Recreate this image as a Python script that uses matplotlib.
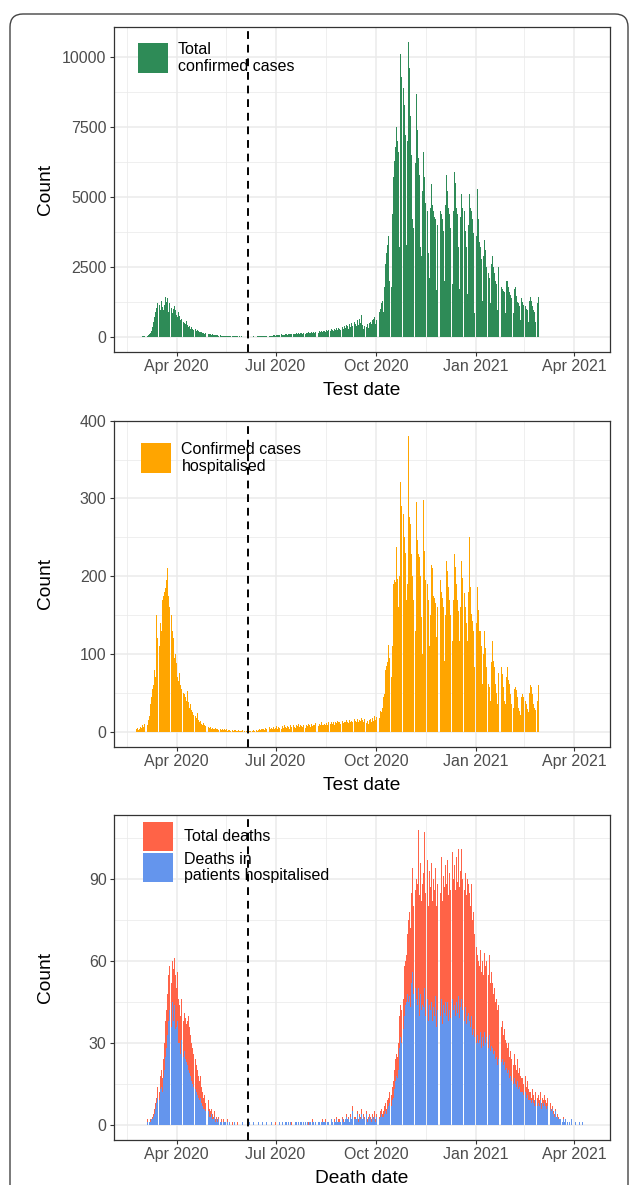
import numpy as np
import pandas as pd
import matplotlib
matplotlib.use('Agg')
import matplotlib.pyplot as plt
import matplotlib.dates as mdates
from matplotlib.patches import Rectangle, FancyBboxPatch

plt.rcParams['font.family'] = ['Liberation Sans', 'DejaVu Sans']

# daily series, weeks starting on Saturdays
start = '2020-02-22'
cutoff = '2020-06-06'

cases = [
    0, 0, 2, 4, 6, 8, 12,
    15, 20, 25, 30, 40, 50, 70,
    100, 140, 220, 350, 550, 720, 880,
    1050, 1200, 1150, 980, 1300, 1080, 950,
    1150, 1430, 1250, 1380, 900, 1200, 1050,
    850, 1000, 1120, 950, 800, 700, 900,
    750, 600, 650, 550, 500, 450, 580,
    420, 350, 400, 300, 340, 280, 250,
    300, 220, 250, 200, 180, 160, 190,
    150, 140, 120, 130, 110, 100, 115,
    90, 80, 95, 70, 75, 60, 65,
    55, 50, 60, 45, 40, 45, 35,
    40, 30, 35, 30, 25, 30, 25,
    20, 25, 20, 18, 22, 15, 20,
    15, 18, 12, 15, 14, 10, 12,
    10, 12, 15, 10, 14, 18, 12,
    15, 20, 18, 25, 20, 22, 30,
    25, 30, 35, 28, 40, 35, 45,
    50, 40, 60, 55, 45, 70, 60,
    80, 65, 90, 70, 85, 75, 95,
    100, 85, 110, 90, 105, 95, 120,
    115, 100, 130, 110, 125, 105, 140,
    130, 115, 145, 120, 150, 125, 160,
    150, 135, 170, 140, 175, 150, 190,
    180, 150, 200, 165, 210, 175, 230,
    220, 180, 250, 200, 260, 210, 280,
    260, 210, 300, 240, 310, 250, 330,
    300, 250, 350, 280, 380, 320, 420,
    380, 300, 450, 360, 500, 400, 550,
    480, 380, 600, 430, 650, 500, 800,
    420, 300, 400, 350, 450, 320, 500,
    550, 450, 600, 650, 700, 450, 600,
    700, 900, 1000, 1200, 1300, 900, 1800,
    2600, 3000, 3300, 3600, 2000, 1800, 4400,
    5700, 6300, 6800, 7500, 7000, 6600, 3200,
    10100, 9300, 8900, 8300, 7200, 3300, 7000,
    10550, 9600, 7900, 6500, 4200, 3900, 6200,
    8700, 7400, 6400, 5800, 3200, 2900, 5200,
    6600, 5700, 4800, 4500, 3000, 2100, 4600,
    5450, 4700, 4500, 4300, 4200, 1670, 4000,
    5300, 4500, 4400, 4200, 3800, 2000, 4700,
    5800, 5200, 4600, 4400, 3900, 1900, 4500,
    5900, 5500, 4600, 4400, 3200, 1700, 4300,
    5100, 4600, 4500, 3800, 3200, 1550, 4000,
    5100, 4600, 4500, 4200, 3700, 850, 3600,
    5300, 4200, 3400, 3200, 2800, 1300, 2900,
    3450, 3100, 2500, 2300, 2100, 1200, 2600,
    2900, 2500, 2300, 2000, 1900, 950, 2500,
    1850, 1800, 1700, 1650, 1600, 850, 2000,
    2000, 1800, 1600, 1500, 1400, 850, 1700,
    1800, 1450, 1250, 1200, 1100, 600, 1400,
    1250, 1150, 1100, 1000, 950, 530, 1300,
    1430, 1300, 1100, 950, 900, 540, 1200,
    1430,
]

hosp = [
    0, 0, 3, 5, 2, 4, 6,
    5, 8, 6, 10, 12, 9, 15,
    20, 35, 45, 55, 60, 80, 70,
    150, 120, 110, 140, 130, 170, 175,
    180, 185, 195, 210, 175, 160, 150,
    130, 120, 95, 100, 88, 70, 65,
    75, 60, 55, 50, 48, 45, 40,
    52, 38, 30, 35, 28, 25, 22,
    20, 18, 24, 15, 12, 14, 10,
    9, 11, 8, 7, 10, 6, 5,
    6, 4, 5, 3, 4, 5, 3,
    3, 2, 4, 2, 3, 2, 3,
    2, 3, 1, 2, 2, 1, 2,
    1, 2, 2, 1, 1, 2, 1,
    1, 1, 2, 1, 0, 1, 1,
    0, 1, 1, 0, 1, 2, 1,
    2, 1, 2, 3, 2, 4, 3,
    3, 2, 5, 4, 3, 6, 4,
    5, 4, 6, 3, 5, 7, 4,
    6, 5, 4, 7, 5, 8, 6,
    5, 7, 6, 4, 8, 6, 9,
    6, 5, 8, 7, 10, 6, 8,
    7, 6, 9, 5, 8, 7, 10,
    8, 6, 10, 7, 9, 8, 11,
    9, 7, 10, 8, 12, 9, 8,
    10, 8, 11, 9, 12, 10, 13,
    10, 12, 9, 13, 11, 14, 12,
    12, 10, 14, 11, 13, 12, 15,
    13, 11, 15, 12, 14, 13, 16,
    14, 12, 16, 13, 15, 14, 18,
    15, 12, 16, 11, 14, 10, 15,
    16, 13, 18, 14, 20, 15, 19,
    20, 18, 27, 25, 30, 45, 48,
    80, 85, 90, 112, 95, 70, 110,
    190, 195, 192, 237, 196, 160, 200,
    321, 290, 280, 250, 230, 170, 190,
    381, 276, 267, 229, 200, 169, 130,
    295, 246, 229, 225, 200, 148, 100,
    298, 233, 195, 190, 170, 110, 150,
    214, 210, 174, 172, 165, 122, 160,
    216, 195, 180, 172, 160, 91, 150,
    220, 207, 186, 169, 150, 117, 170,
    229, 212, 190, 169, 155, 117, 160,
    220, 198, 178, 160, 140, 117, 180,
    250, 186, 152, 143, 130, 83, 140,
    186, 156, 130, 130, 110, 61, 100,
    130, 108, 83, 61, 57, 40, 90,
    117, 91, 83, 61, 50, 36, 75,
    91, 83, 74, 57, 40, 35, 70,
    83, 66, 61, 48, 36, 30, 55,
    57, 53, 44, 31, 27, 22, 45,
    48, 44, 40, 35, 29, 25, 50,
    60, 57, 48, 35, 30, 28, 40,
    60,
]

deaths = [
    0, 0, 0, 0, 0, 0, 0,
    0, 0, 0, 0, 0, 2, 0,
    1, 2, 2, 3, 4, 6, 8,
    10, 14, 12, 18, 20, 17, 24,
    30, 38, 42, 48, 55, 58, 52,
    60, 57, 61, 55, 50, 56, 46,
    44, 40, 46, 38, 41, 39, 37,
    38, 40, 36, 33, 30, 28, 26,
    24, 22, 20, 18, 16, 18, 14,
    12, 10, 11, 8, 7, 9, 6,
    5, 6, 4, 3, 5, 2, 3,
    2, 3, 1, 2, 0, 2, 1,
    1, 0, 2, 0, 1, 0, 1,
    0, 1, 0, 0, 1, 0, 0,
    0, 0, 1, 0, 0, 0, 0,
    0, 1, 0, 0, 0, 1, 0,
    0, 0, 1, 0, 0, 0, 1,
    0, 0, 0, 1, 0, 0, 0,
    1, 0, 0, 0, 1, 0, 0,
    0, 1, 0, 1, 0, 0, 1,
    1, 0, 1, 0, 1, 1, 0,
    0, 1, 1, 0, 1, 0, 1,
    1, 0, 1, 1, 0, 1, 1,
    1, 1, 0, 2, 1, 0, 1,
    0, 1, 1, 0, 1, 2, 1,
    1, 2, 0, 1, 1, 0, 2,
    1, 0, 2, 1, 3, 1, 2,
    2, 1, 3, 2, 1, 2, 4,
    2, 3, 1, 4, 2, 7, 3,
    3, 2, 5, 2, 4, 3, 6,
    2, 4, 3, 5, 2, 3, 4,
    3, 2, 4, 3, 5, 2, 4,
    4, 3, 5, 6, 4, 5, 7,
    8, 6, 9, 10, 12, 11, 14,
    16, 20, 24, 26, 25, 30, 40,
    44, 42, 46, 58, 60, 62, 70,
    75, 78, 72, 85, 94, 80, 86,
    90, 88, 108, 84, 96, 82, 88,
    92, 107, 85, 97, 80, 93, 87,
    96, 82, 90, 86, 94, 80, 88,
    93, 85, 98, 82, 91, 87, 95,
    88, 97, 84, 92, 86, 100, 90,
    95, 86, 98, 89, 101, 87, 93,
    101, 90, 86, 92, 84, 90, 88,
    85, 80, 88, 75, 78, 70, 65,
    62, 60, 58, 64, 56, 60, 55,
    63, 58, 60, 55, 62, 52, 56,
    52, 48, 50, 45, 46, 42, 44,
    40, 36, 38, 33, 35, 31, 30,
    28, 30, 25, 27, 24, 22, 26,
    22, 20, 24, 19, 21, 18, 17,
    17, 15, 18, 14, 16, 13, 12,
    12, 10, 13, 11, 9, 12, 10,
    11, 9, 12, 8, 10, 9, 11,
    9, 8, 10, 7, 8, 6, 7,
    5, 4, 6, 3, 4, 3, 2,
    2, 1, 3, 1, 2, 0, 1,
    0, 1, 0, 2, 0, 0, 1,
    0, 0, 0, 1, 0, 0, 1,
]

deaths_hosp = [
    0, 0, 0, 0, 0, 0, 0,
    0, 0, 0, 0, 0, 1, 0,
    1, 1, 2, 2, 3, 4, 6,
    8, 10, 9, 13, 14, 12, 17,
    20, 25, 28, 33, 38, 42, 36,
    45, 38, 44, 35, 36, 38, 30,
    30, 26, 31, 25, 27, 24, 23,
    22, 20, 19, 18, 16, 15, 14,
    13, 12, 11, 10, 9, 10, 8,
    7, 6, 6, 5, 4, 5, 3,
    3, 4, 2, 2, 3, 1, 2,
    1, 2, 1, 1, 0, 1, 1,
    1, 0, 1, 0, 1, 0, 0,
    0, 1, 0, 0, 0, 0, 0,
    0, 0, 1, 0, 0, 0, 0,
    0, 1, 0, 0, 0, 1, 0,
    0, 0, 1, 0, 0, 0, 1,
    0, 0, 0, 1, 0, 0, 0,
    1, 0, 0, 0, 0, 0, 0,
    0, 1, 0, 1, 0, 0, 1,
    1, 0, 1, 0, 1, 0, 0,
    0, 1, 1, 0, 1, 0, 1,
    1, 0, 1, 1, 0, 1, 0,
    1, 1, 0, 1, 1, 0, 1,
    0, 1, 1, 0, 1, 1, 1,
    1, 1, 0, 1, 1, 0, 2,
    1, 0, 1, 1, 2, 1, 1,
    1, 1, 2, 1, 1, 2, 3,
    2, 2, 1, 3, 2, 5, 2,
    2, 2, 4, 1, 3, 2, 4,
    2, 3, 2, 4, 1, 2, 3,
    2, 1, 3, 2, 3, 1, 3,
    3, 2, 3, 4, 3, 3, 4,
    5, 4, 6, 7, 8, 7, 9,
    10, 13, 16, 18, 17, 20, 28,
    32, 30, 35, 40, 44, 45, 48,
    45, 47, 43, 52, 56, 48, 50,
    46, 44, 50, 40, 48, 42, 44,
    43, 50, 40, 46, 38, 44, 42,
    45, 38, 43, 40, 47, 36, 42,
    42, 40, 46, 37, 44, 41, 45,
    40, 45, 38, 42, 39, 46, 42,
    44, 40, 45, 41, 47, 39, 43,
    46, 42, 38, 43, 37, 40, 41,
    38, 36, 40, 33, 35, 32, 30,
    33, 30, 31, 34, 28, 32, 29,
    34, 30, 32, 28, 33, 27, 29,
    28, 26, 27, 24, 25, 22, 24,
    25, 23, 24, 22, 23, 20, 21,
    19, 20, 17, 18, 16, 15, 17,
    15, 14, 16, 13, 14, 12, 12,
    12, 11, 12, 10, 11, 9, 9,
    9, 8, 9, 8, 7, 9, 7,
    8, 7, 9, 6, 8, 7, 8,
    7, 6, 7, 5, 6, 5, 6,
    4, 3, 5, 3, 3, 2, 2,
    2, 1, 2, 1, 2, 0, 1,
    0, 1, 0, 2, 0, 0, 1,
    0, 0, 0, 1, 0, 0, 1,
]

xlabels = ['Test date', 'Test date', 'Death date']
yticks = [[0, 2500, 5000, 7500, 10000], [0, 100, 200, 300, 400], [0, 30, 60, 90]]
xticks = ['2020-04-01', '2020-07-01', '2020-10-01', '2021-01-01', '2021-04-01']
xminor = ['2020-02-15 12:00', '2020-05-16 12:00', '2020-08-16', '2020-11-16', '2021-02-14 12:00']
xlim = ['2020-02-03 06:00', '2021-05-04']

green = '#2E8B57'
orange = '#FFA500'
red = '#FF6347'
blue = '#6495ED'

W, H = 630, 1185
fig = plt.figure(figsize=(W / 100, H / 100), dpi=100)


def box(l, t, r, b):
    return [l / W, 1 - b / H, (r - l) / W, (b - t) / H]


panels = [(113.6, 27, 610, 351.7), (113.6, 420.7, 610, 746.5), (113.6, 815, 610, 1139.7)]
axes = [fig.add_axes(box(*p)) for p in panels]

d_cases = pd.date_range(start, periods=len(cases), freq='D')
d_hosp = pd.date_range(start, periods=len(hosp), freq='D')
d_deaths = pd.date_range(start, periods=len(deaths), freq='D')

axes[0].bar(d_cases, cases, width=0.9, color=green, lw=0)
axes[1].bar(d_hosp, hosp, width=0.9, color=orange, lw=0)
axes[2].bar(d_deaths, deaths, width=0.9, color=red, lw=0)
axes[2].bar(d_deaths, deaths_hosp, width=0.9, color=blue, lw=0)

tops = [max(cases), max(hosp), max(deaths)]

for i, ax in enumerate(axes):
    ax.set_xticks([pd.Timestamp(t) for t in xticks])
    ax.set_xticks([pd.Timestamp(t) for t in xminor], minor=True)
    ax.xaxis.set_major_formatter(mdates.DateFormatter('%b %Y'))
    ys = yticks[i]
    step = ys[1] - ys[0]
    ax.set_yticks(ys)
    ax.set_yticks([y + step / 2 for y in ys], minor=True)
    ax.set_xlim(pd.Timestamp(xlim[0]), pd.Timestamp(xlim[1]))
    ax.set_ylim(-0.05 * tops[i], 1.05 * tops[i])
    ax.set_axisbelow(True)
    ax.grid(which='major', color='#EBEBEB', lw=1.1)
    ax.grid(which='minor', color='#EBEBEB', lw=0.55)
    ax.tick_params(which='major', length=2.9, width=0.8, color='#333333',
                   labelcolor='#4D4D4D', labelsize=11.5, pad=2.2)
    ax.tick_params(which='minor', length=0)
    for s in ax.spines.values():
        s.set_color('#333333')
        s.set_linewidth(0.9)
    ax.axvline(pd.Timestamp(cutoff), color='black', lw=1.4, ls=(0, (4, 3)))
    ax.set_ylabel('Count', fontsize=13.8)
    ax.yaxis.label.set_va('center')
    ax.yaxis.set_label_coords(-0.138, 0.5)
    ax.set_xlabel(xlabels[i], fontsize=13.8)
    ax.xaxis.set_label_coords(0.5, -0.093)

# legends drawn in pixel positions
legend_items = [
    (138, 43, green, 'Total\nconfirmed cases', 178),
    (141, 443, orange, 'Confirmed cases\nhospitalised', 181.5),
    (143, 821.7, red, 'Total deaths', 184),
    (143, 852.7, blue, 'Deaths in\npatients hospitalised', 184),
]
for x, y, c, lab, tx in legend_items:
    fig.patches.append(Rectangle((x / W, 1 - (y + 29.5) / H), 29.5 / W, 29.5 / H,
                                 transform=fig.transFigure, color=c, lw=0))
    fig.text(tx / W, 1 - (y + 15) / H, lab, fontsize=11.5, va='center', ha='left',
             linespacing=1.12)

frame = FancyBboxPatch((0.10, -0.3), 6.18, 11.71 + 0.3,
                       boxstyle='round,pad=0,rounding_size=0.13',
                       transform=fig.dpi_scale_trans, fill=False,
                       ec='#444444', lw=1.0)
fig.patches.append(frame)

fig.savefig('out.png', dpi=100)
